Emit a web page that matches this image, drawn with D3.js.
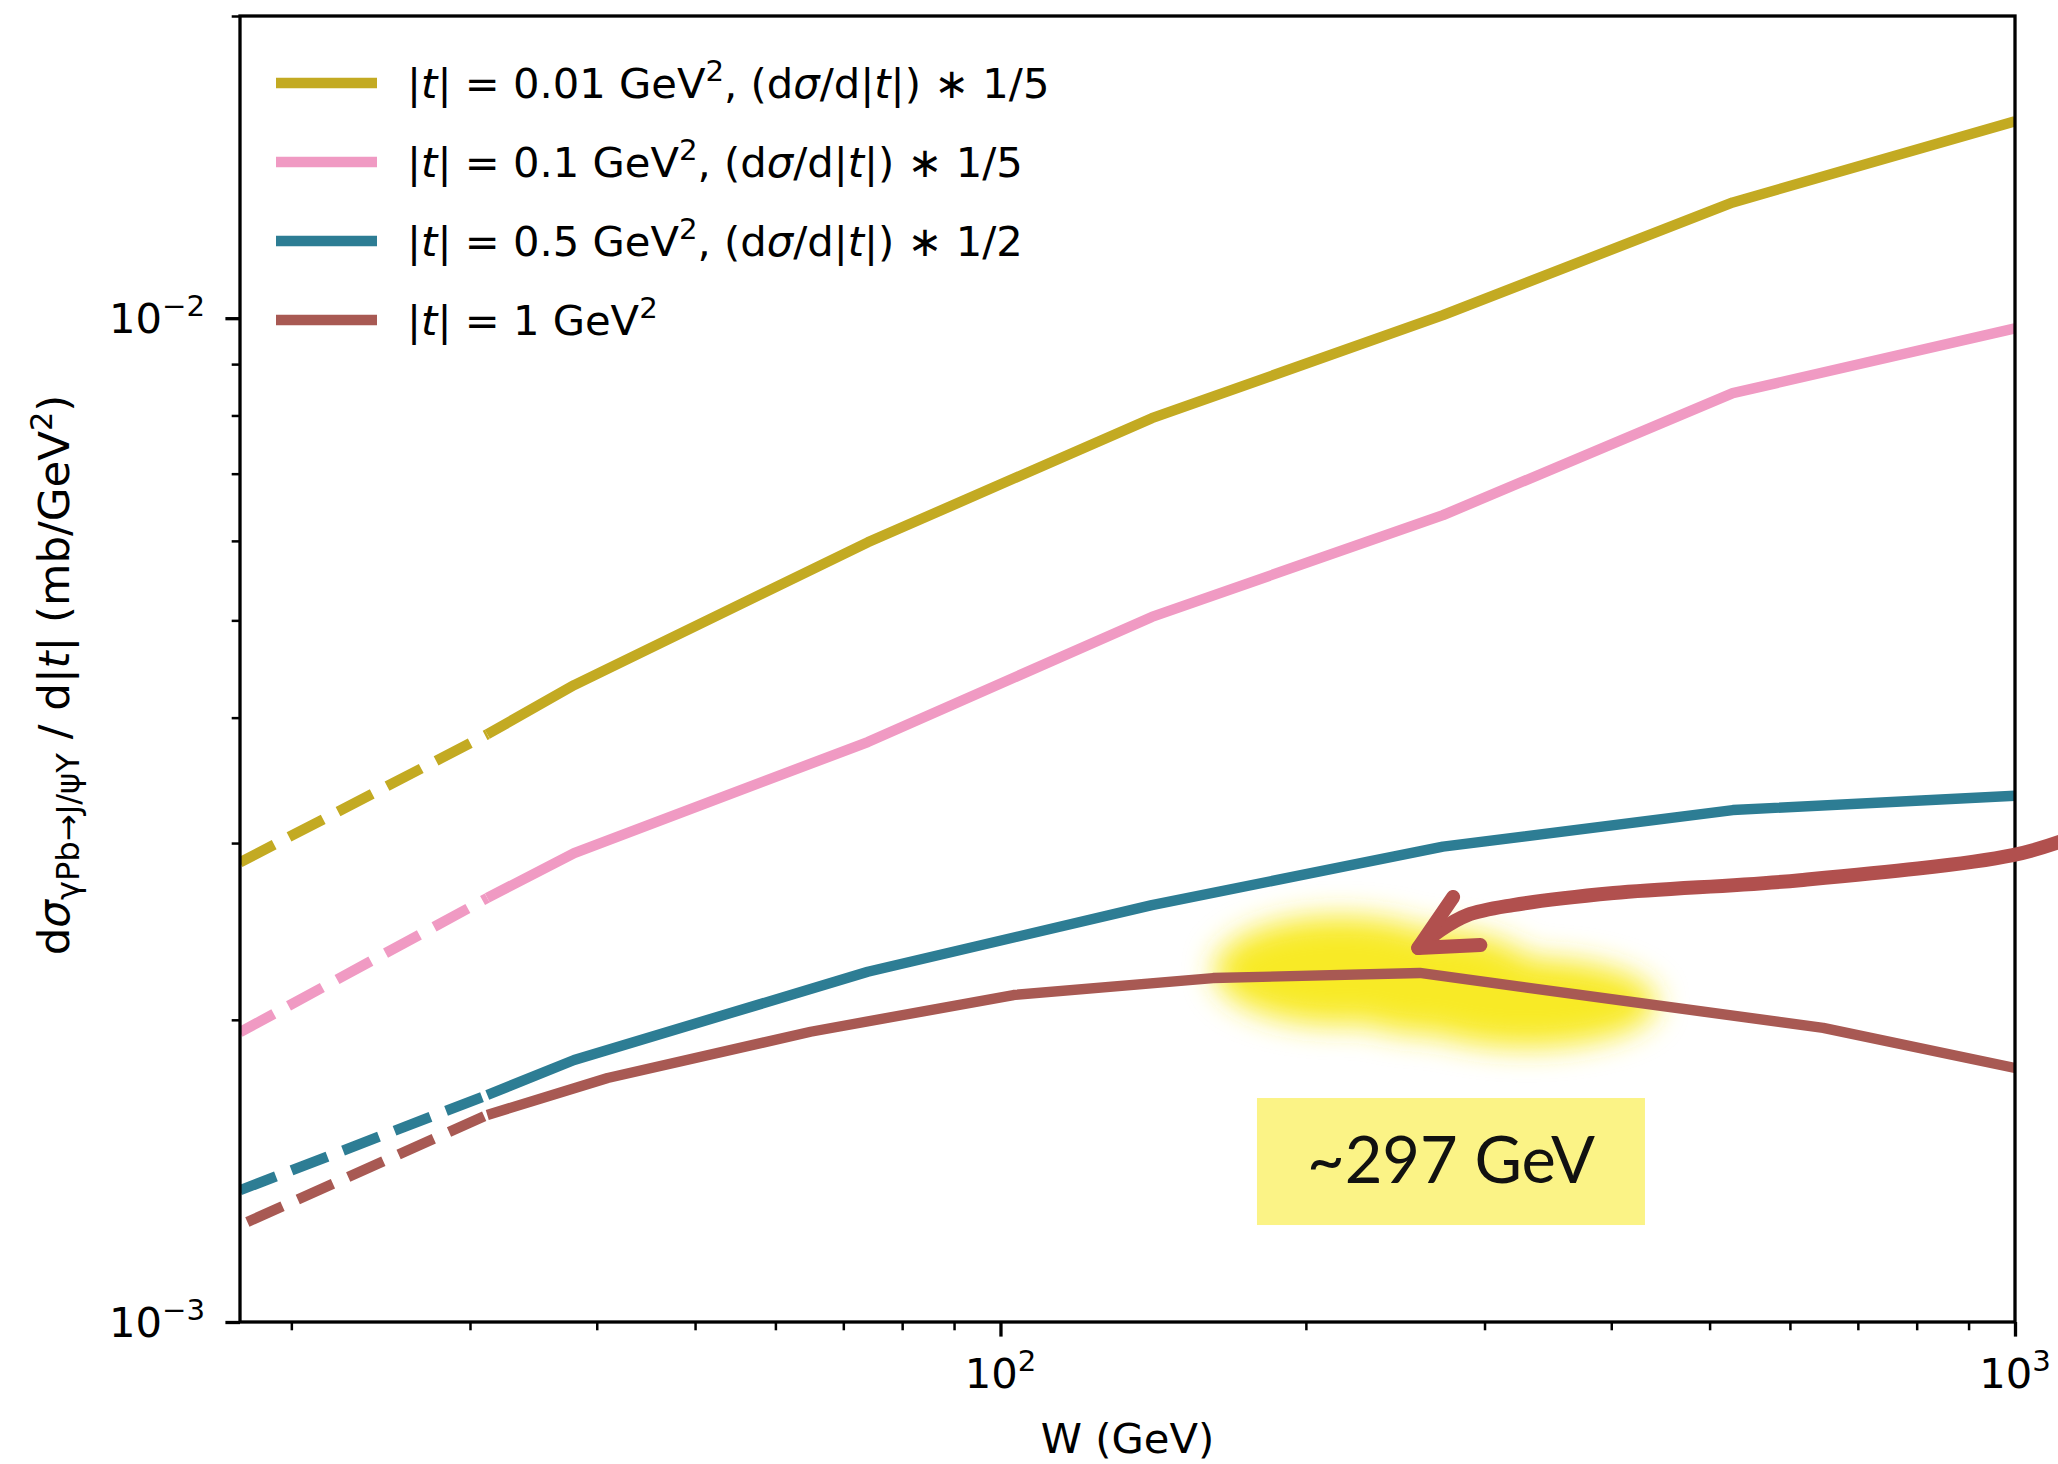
<!DOCTYPE html>
<html>
<head>
<meta charset="utf-8">
<script src="https://cdn.jsdelivr.net/npm/d3@7"></script>
<style>
  html, body { margin: 0; padding: 0; background: #fff; }
  svg text { font-family: "DejaVu Sans", sans-serif; white-space: pre; }
</style>
</head>
<body>
<div id="chart"></div>
<script>
// ---- data ----
// W in GeV, dsigma/d|t| in mb/GeV^2 (already scaled as in the legend)
const wDashed = [17.8, 31.2];
const wDashedRed = [18.1, 31.2];
const wSolid = [31.2, 38, 74, 141, 273, 527, 1000];
const wSolidRed = [31.2, 41, 65, 103, 162, 259, 647, 1000];

const goldDashed = [2.87e-3, 3.85e-3];
const goldSolid = [3.85e-3, 4.31e-3, 5.98e-3, 7.95e-3, 1.007e-2, 1.304e-2, 1.571e-2];
const pinkDashed = [1.944e-3, 2.645e-3];
const pinkSolid = [2.645e-3, 2.932e-3, 3.782e-3, 5.04e-3, 6.365e-3, 8.42e-3, 9.77e-3];
const tealDashed = [1.353e-3, 1.683e-3];
const tealSolid = [1.683e-3, 1.824e-3, 2.233e-3, 2.602e-3, 2.975e-3, 3.236e-3, 3.344e-3];
const redDashed = [1.258e-3, 1.608e-3];
const redSolid = [1.608e-3, 1.750e-3, 1.946e-3, 2.117e-3, 2.201e-3, 2.227e-3, 1.963e-3, 1.791e-3];

const colors = ['#c3aa22', '#f09ac3', '#2d7d94', '#a85953'];

const legendLabels = [
  ['|', {it: 't'}, '| = 0.01 GeV', {sup: '2'}, ', (d', {it: 'σ'}, '/d|', {it: 't'}, '|) ∗ 1/5'],
  ['|', {it: 't'}, '| = 0.1 GeV', {sup: '2'}, ', (d', {it: 'σ'}, '/d|', {it: 't'}, '|) ∗ 1/5'],
  ['|', {it: 't'}, '| = 0.5 GeV', {sup: '2'}, ', (d', {it: 'σ'}, '/d|', {it: 't'}, '|) ∗ 1/2'],
  ['|', {it: 't'}, '| = 1 GeV', {sup: '2'}]
];

const xMajor = [100, 1000];
const xMajorLabels = [['10', {sup: '2'}], ['10', {sup: '3'}]];
const xMinor = [20, 30, 40, 50, 60, 70, 80, 90, 200, 300, 400, 500, 600, 700, 800, 900];
const yMajor = [1e-3, 1e-2];
const yMajorLabels = [['10', {sup: '−3'}], ['10', {sup: '−2'}]];
const yMinor = [2e-3, 3e-3, 4e-3, 5e-3, 6e-3, 7e-3, 8e-3, 9e-3, 2e-2];

// annotation: highlight around the |t| = 1 maximum, arrow and label
const highlightW = [216, 266, 330];
const highlightV = [2.24e-3, 2.18e-3, 2.08e-3];
const highlightRx = [125, 110, 130];
const highlightRy = [54, 52, 44];
const arrowW = [1133, 995, 614, 402, 320, 288.5, 271.4, 258.1];
const arrowV = [3.034e-3, 2.918e-3, 2.755e-3, 2.675e-3, 2.602e-3, 2.543e-3, 2.457e-3, 2.358e-3];
const arrowHeadW = [279.4, 258.1, 297.2];
const arrowHeadV = [2.651e-3, 2.358e-3, 2.374e-3];
const noteW = 278, noteV = 1.445e-3, noteText = '~297 GeV';

// ---- layout ----
const width = 2058, height = 1464;
const plot = { left: 240, right: 2015, top: 16, bottom: 1322 };
const fs = 41.7;

const svg = d3.select('#chart').append('svg')
  .attr('width', width).attr('height', height)
  .style('display', 'block');

const x = d3.scaleLog().domain([17.8, 1000]).range([plot.left, plot.right]);
const y = d3.scaleLog().domain([1e-3, 2e-2]).range([plot.bottom, plot.top]);

// rich text helper: strings, {it}, {sup}, {sub}
function rich(sel, parts, size, subScale) {
  const ss = subScale || 0.7;
  let shift = 0;
  parts.forEach(p => {
    const o = typeof p === 'string' ? { t: p } : p;
    const txt = o.t !== undefined ? o.t : (o.it || o.sup || o.sub);
    const ts = sel.append('tspan').text(txt);
    let target = 0;
    if (o.it) ts.attr('font-style', 'italic');
    if (o.sup) { target = -0.40 * size; ts.attr('font-size', size * 0.7); }
    if (o.sub) { target = 0.24 * size; ts.attr('font-size', size * ss); }
    if (target !== shift) { ts.attr('dy', target - shift); shift = target; }
  });
}

const defs = svg.append('defs');
defs.append('clipPath').attr('id', 'plotclip')
  .append('rect')
  .attr('x', plot.left).attr('y', plot.top)
  .attr('width', plot.right - plot.left).attr('height', plot.bottom - plot.top);
defs.append('filter').attr('id', 'blur')
  .attr('x', '-50%').attr('y', '-50%').attr('width', '200%').attr('height', '200%')
  .append('feGaussianBlur').attr('stdDeviation', 15);

// highlight blob (under the curves)
const blob = svg.append('g').attr('filter', 'url(#blur)');
highlightW.forEach((w, i) => {
  blob.append('ellipse')
    .attr('cx', x(w)).attr('cy', y(highlightV[i]))
    .attr('rx', highlightRx[i]).attr('ry', highlightRy[i])
    .attr('fill', '#f8ea28');
});

// label box
const boxW = 388, boxH = 127;
svg.append('rect')
  .attr('x', x(noteW) - boxW / 2).attr('y', y(noteV) - boxH / 2)
  .attr('width', boxW).attr('height', boxH)
  .attr('fill', '#fbf386');
svg.append('text')
  .attr('x', x(noteW)).attr('y', y(noteV) + 21)
  .attr('text-anchor', 'middle')
  .style('font-family', 'Lato, "Open Sans", sans-serif')
  .style('font-size', '65px')
  .attr('fill', '#111')
  .text(noteText);

// curves
const line = d3.line().x(d => x(d[0])).y(d => y(d[1]));
const series = [
  { wd: wDashed, vd: goldDashed, ws: wSolid, vs: goldSolid },
  { wd: wDashed, vd: pinkDashed, ws: wSolid, vs: pinkSolid },
  { wd: wDashed, vd: tealDashed, ws: wSolid, vs: tealSolid },
  { wd: wDashedRed, vd: redDashed, ws: wSolidRed, vs: redSolid }
];
const curves = svg.append('g').attr('clip-path', 'url(#plotclip)');
series.forEach((s, i) => {
  curves.append('path')
    .attr('d', line(d3.zip(s.wd, s.vd)))
    .attr('fill', 'none').attr('stroke', colors[i])
    .attr('stroke-width', 10.4)
    .attr('stroke-dasharray', '38.5 16.7');
  curves.append('path')
    .attr('d', line(d3.zip(s.ws, s.vs)))
    .attr('fill', 'none').attr('stroke', colors[i])
    .attr('stroke-width', 10.4)
    .attr('stroke-linejoin', 'round');
});

// axes ticks
function styleAxis(g, w) {
  g.select('.domain').remove();
  g.selectAll('.tick line').attr('stroke', '#000').attr('stroke-width', w);
}
svg.append('g').attr('transform', `translate(0,${plot.bottom})`)
  .call(d3.axisBottom(x).tickValues(xMinor).tickSize(8.3).tickFormat(''))
  .call(g => styleAxis(g, 2.5));
svg.append('g').attr('transform', `translate(0,${plot.bottom})`)
  .call(d3.axisBottom(x).tickValues(xMajor).tickSize(14.6).tickFormat(''))
  .call(g => styleAxis(g, 3.3));
svg.append('g').attr('transform', `translate(${plot.left},0)`)
  .call(d3.axisLeft(y).tickValues(yMinor).tickSize(8.3).tickFormat(''))
  .call(g => styleAxis(g, 2.5));
svg.append('g').attr('transform', `translate(${plot.left},0)`)
  .call(d3.axisLeft(y).tickValues(yMajor).tickSize(14.6).tickFormat(''))
  .call(g => styleAxis(g, 3.3));

// frame
svg.append('rect')
  .attr('x', plot.left).attr('y', plot.top)
  .attr('width', plot.right - plot.left).attr('height', plot.bottom - plot.top)
  .attr('fill', 'none').attr('stroke', '#000').attr('stroke-width', 3.3);

// tick labels
xMajor.forEach((v, i) => {
  const t = svg.append('text')
    .attr('x', x(v)).attr('y', plot.bottom + 66)
    .attr('text-anchor', 'middle')
    .style('font-size', fs + 'px');
  rich(t, xMajorLabels[i], fs);
});
yMajor.forEach((v, i) => {
  const t = svg.append('text')
    .attr('x', plot.left - 35).attr('y', y(v) + 15)
    .attr('text-anchor', 'end')
    .style('font-size', fs + 'px');
  rich(t, yMajorLabels[i], fs);
});

// axis titles
svg.append('text')
  .attr('x', (plot.left + plot.right) / 2).attr('y', 1453)
  .attr('text-anchor', 'middle')
  .style('font-size', fs + 'px')
  .text('W (GeV)');
const ylfs = 43.5;
const yl = svg.append('text')
  .attr('transform', `translate(69,${(plot.top + plot.bottom) / 2 + 6}) rotate(-90)`)
  .attr('text-anchor', 'middle')
  .style('font-size', ylfs + 'px');
rich(yl, ['d', {it: 'σ'}, {sub: 'γPb→J/ψY'}, ' / d|', {it: 't'}, '| (mb/GeV', {sup: '2'}, ')'], ylfs, 0.74);

// legend
const legendRows = [83, 162, 241, 320];
legendLabels.forEach((lab, i) => {
  svg.append('line')
    .attr('x1', 276).attr('x2', 377)
    .attr('y1', legendRows[i]).attr('y2', legendRows[i])
    .attr('stroke', colors[i]).attr('stroke-width', 10.4);
  const t = svg.append('text')
    .attr('x', 407).attr('y', legendRows[i] + 15)
    .style('font-size', fs + 'px');
  rich(t, lab, fs);
});

// arrow (drawn on top, not clipped)
const arrowLine = d3.line().x(d => x(d[0])).y(d => y(d[1])).curve(d3.curveCatmullRom);
const arrowStyle = p => p.attr('fill', 'none').attr('stroke', '#b1504e')
  .attr('stroke-width', 14).attr('stroke-linecap', 'round').attr('stroke-linejoin', 'round');
svg.append('path').attr('d', arrowLine(d3.zip(arrowW, arrowV))).call(arrowStyle);
svg.append('path').attr('d', d3.line().x(d => x(d[0])).y(d => y(d[1]))(d3.zip(arrowHeadW, arrowHeadV))).call(arrowStyle);
</script>
</body>
</html>
